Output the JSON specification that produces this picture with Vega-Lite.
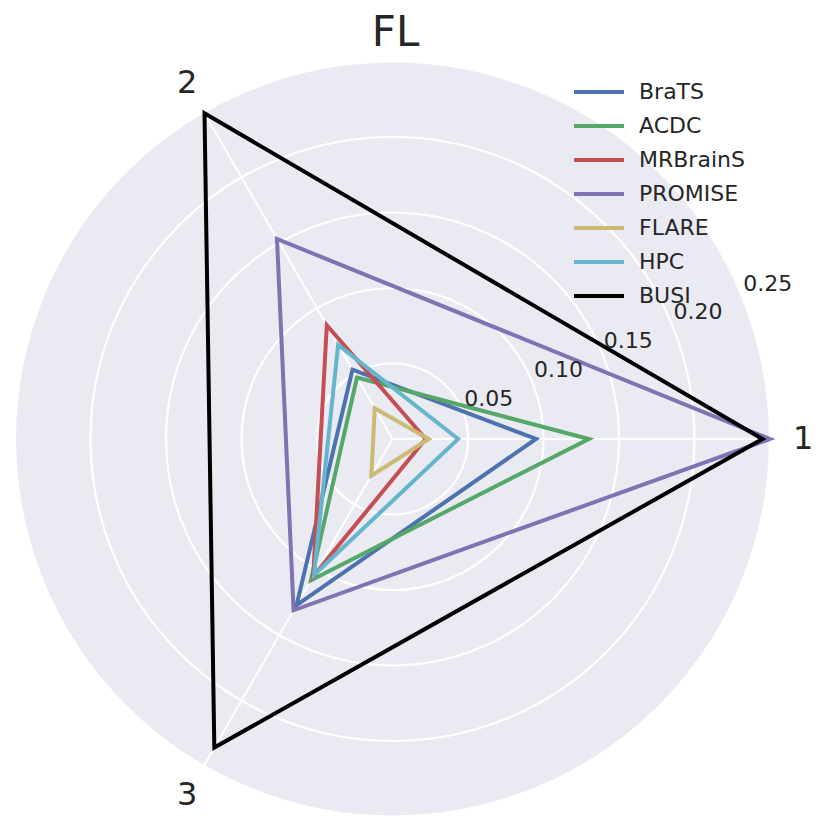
{
  "$schema": "https://vega.github.io/schema/vega-lite/v6.json",
  "width": 831,
  "height": 773,
  "autosize": {"type": "none"},
  "padding": {"left": 0, "top": 60, "right": 0, "bottom": 0},
  "background": "white",
  "config": {
    "view": {"stroke": null},
    "font": "DejaVu Sans",
    "legend": {
      "orient": "none",
      "legendX": 572,
      "legendY": 15,
      "padding": 0,
      "rowPadding": 0,
      "symbolType": "stroke",
      "symbolSize": 2500,
      "symbolStrokeWidth": 4,
      "clipHeight": 34,
      "labelFontSize": 22,
      "labelColor": "#262626",
      "labelOffset": 13,
      "labelFont": "DejaVu Sans"
    }
  },
  "title": {
    "text": "FL",
    "fontSize": 42,
    "fontWeight": "normal",
    "color": "#262626",
    "font": "DejaVu Sans",
    "anchor": "middle",
    "baseline": "alphabetic",
    "offset": -31,
    "dx": -20
  },
  "datasets": {
    "scores": [
      {"dataset": "BraTS", "axis": 1, "value": 0.095},
      {"dataset": "BraTS", "axis": 2, "value": 0.053},
      {"dataset": "BraTS", "axis": 3, "value": 0.127},
      {"dataset": "ACDC", "axis": 1, "value": 0.130},
      {"dataset": "ACDC", "axis": 2, "value": 0.047},
      {"dataset": "ACDC", "axis": 3, "value": 0.108},
      {"dataset": "MRBrainS", "axis": 1, "value": 0.022},
      {"dataset": "MRBrainS", "axis": 2, "value": 0.087},
      {"dataset": "MRBrainS", "axis": 3, "value": 0.105},
      {"dataset": "PROMISE", "axis": 1, "value": 0.250},
      {"dataset": "PROMISE", "axis": 2, "value": 0.153},
      {"dataset": "PROMISE", "axis": 3, "value": 0.131},
      {"dataset": "FLARE", "axis": 1, "value": 0.024},
      {"dataset": "FLARE", "axis": 2, "value": 0.0235},
      {"dataset": "FLARE", "axis": 3, "value": 0.028},
      {"dataset": "HPC", "axis": 1, "value": 0.0435},
      {"dataset": "HPC", "axis": 2, "value": 0.072},
      {"dataset": "HPC", "axis": 3, "value": 0.104},
      {"dataset": "BUSI", "axis": 1, "value": 0.245},
      {"dataset": "BUSI", "axis": 2, "value": 0.249},
      {"dataset": "BUSI", "axis": 3, "value": 0.236}
    ],
    "rings": [
      {"r": 0.05},
      {"r": 0.10},
      {"r": 0.15},
      {"r": 0.20},
      {"r": 0.25}
    ],
    "axes": [
      {"axis": 1},
      {"axis": 2},
      {"axis": 3}
    ]
  },
  "layer": [
    {
      "data": {"values": [{"r": 0.25, "cx": 0, "cy": 0}]},
      "mark": {"type": "point", "shape": "circle", "filled": true, "fill": "#EAEAF2", "strokeWidth": 0, "opacity": 1},
      "encoding": {
        "x": {"field": "cx", "type": "quantitative", "scale": {"domain": [-0.25993, 0.2904], "nice": false, "zero": false}, "axis": null},
        "y": {"field": "cy", "type": "quantitative", "scale": {"domain": [-0.26093, 0.25099], "nice": false, "zero": false}, "axis": null},
        "size": {"field": "r", "type": "quantitative", "scale": {"type": "pow", "exponent": 2, "domain": [0, 0.25], "range": [0, 570025]}, "legend": null}
      }
    },
    {
      "data": {"name": "rings"},
      "transform": [
        {"calculate": "0", "as": "cx"}
      ],
      "mark": {"type": "point", "shape": "circle", "filled": false, "stroke": "white", "strokeWidth": 2.2, "opacity": 1},
      "encoding": {
        "x": {"field": "cx", "type": "quantitative", "axis": null},
        "y": {"field": "cx", "type": "quantitative", "axis": null},
        "size": {"field": "r", "type": "quantitative", "legend": null}
      }
    },
    {
      "data": {"name": "axes"},
      "transform": [
        {"calculate": "(datum.axis - 1) * 2 * PI / 3", "as": "angle"},
        {"calculate": "0.25 * cos(datum.angle)", "as": "ex"},
        {"calculate": "0.25 * sin(datum.angle)", "as": "ey"},
        {"calculate": "0", "as": "cx"}
      ],
      "mark": {"type": "rule", "color": "white", "strokeWidth": 2},
      "encoding": {
        "x": {"field": "cx", "type": "quantitative", "axis": null},
        "y": {"field": "cx", "type": "quantitative", "axis": null},
        "x2": {"field": "ex"},
        "y2": {"field": "ey"}
      }
    },
    {
      "data": {"name": "scores"},
      "transform": [
        {"calculate": "(datum.axis - 1) * 2 * PI / 3", "as": "angle"},
        {"calculate": "datum.value * cos(datum.angle)", "as": "px"},
        {"calculate": "datum.value * sin(datum.angle)", "as": "py"}
      ],
      "mark": {"type": "line", "interpolate": "linear-closed", "strokeWidth": 4, "strokeJoin": "miter"},
      "encoding": {
        "x": {"field": "px", "type": "quantitative", "axis": null},
        "y": {"field": "py", "type": "quantitative", "axis": null},
        "order": {"field": "axis", "type": "quantitative"},
        "color": {
          "field": "dataset",
          "type": "nominal",
          "title": null,
          "sort": null,
          "scale": {
            "domain": ["BraTS", "ACDC", "MRBrainS", "PROMISE", "FLARE", "HPC", "BUSI"],
            "range": ["#4C72B0", "#55A868", "#C44E52", "#8172B2", "#CCB974", "#64B5CD", "#000000"]
          }
        }
      }
    },
    {
      "data": {"name": "rings"},
      "transform": [
        {"calculate": "datum.r * cos(PI / 8)", "as": "tx"},
        {"calculate": "datum.r * sin(PI / 8)", "as": "ty"}
      ],
      "mark": {"type": "text", "align": "left", "baseline": "alphabetic", "dx": 2, "dy": -4, "fontSize": 22, "color": "#262626", "font": "DejaVu Sans"},
      "encoding": {
        "x": {"field": "tx", "type": "quantitative", "axis": null},
        "y": {"field": "ty", "type": "quantitative", "axis": null},
        "text": {"field": "r", "type": "quantitative", "format": ".2f"}
      }
    },
    {
      "data": {"name": "axes"},
      "transform": [
        {"calculate": "(datum.axis - 1) * 2 * PI / 3", "as": "angle"},
        {"calculate": "0.272 * cos(datum.angle)", "as": "lx"},
        {"calculate": "0.272 * sin(datum.angle)", "as": "ly"}
      ],
      "mark": {"type": "text", "align": "center", "baseline": "middle", "fontSize": 32, "color": "#262626", "font": "DejaVu Sans"},
      "encoding": {
        "x": {"field": "lx", "type": "quantitative", "axis": null},
        "y": {"field": "ly", "type": "quantitative", "axis": null},
        "text": {"field": "axis", "type": "nominal"}
      }
    }
  ]
}
